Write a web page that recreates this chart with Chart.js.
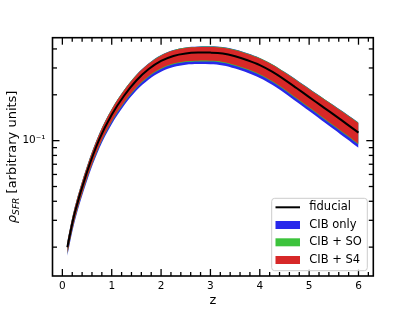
<!DOCTYPE html>
<html><head><meta charset="utf-8">
<script src="https://cdn.jsdelivr.net/npm/chart.js@4.4.0/dist/chart.umd.min.js"></script>
<style>html,body{margin:0;padding:0;background:#fff;}canvas{display:block;}</style>
</head><body>
<canvas id="c" width="415" height="311"></canvas>
<script>
// ---- data ----
const zValues = [0.1,0.25,0.5,0.75,1.0,1.25,1.5,1.75,2.0,2.25,2.5,2.75,3.0,3.25,3.5,3.75,4.0,4.25,4.5,4.75,5.0,5.25,5.5,5.75,6.0];
const fiducial = [0.01995,0.03350,0.06237,0.1023,0.1479,0.1972,0.2483,0.2951,0.3334,0.3598,0.3733,0.3784,0.3784,0.3733,0.3581,0.3373,0.3133,0.2838,0.2518,0.2208,0.1932,0.1690,0.1483,0.1294,0.1130];
const cibS4Upper = [0.02163,0.03631,0.06745,0.1107,0.1600,0.2133,0.2685,0.3192,0.3614,0.3899,0.4055,0.4112,0.4121,0.4074,0.3926,0.3707,0.3459,0.3148,0.2805,0.2477,0.2178,0.1919,0.1690,0.1486,0.1303];
const cibS4Lower = [0.01820,0.03055,0.05689,0.09311,0.1343,0.1786,0.2244,0.2655,0.2985,0.3206,0.3319,0.3350,0.3342,0.3289,0.3141,0.2951,0.2729,0.2460,0.2173,0.1897,0.1656,0.1442,0.1259,0.1096,0.09528];
const cibSOUpper = [0.02178,0.03656,0.06792,0.1114,0.1611,0.2148,0.2704,0.3214,0.3639,0.3926,0.4083,0.4140,0.4150,0.4102,0.3954,0.3733,0.3483,0.3170,0.2825,0.2495,0.2193,0.1932,0.1702,0.1496,0.1312];
const cibSOLower = [0.01799,0.03020,0.05623,0.09204,0.1327,0.1766,0.2218,0.2624,0.2951,0.3170,0.3281,0.3311,0.3304,0.3251,0.3105,0.2917,0.2698,0.2432,0.2148,0.1875,0.1637,0.1426,0.1245,0.1084,0.09419];
const cibOnlyUpper = [0.02183,0.03665,0.06807,0.1117,0.1615,0.2153,0.2710,0.3222,0.3647,0.3936,0.4093,0.4150,0.4159,0.4112,0.3962,0.3741,0.3491,0.3177,0.2831,0.2500,0.2198,0.1936,0.1706,0.1500,0.1315];
const cibOnlyLower = [0.01758,0.02944,0.05458,0.08913,0.1282,0.1702,0.2133,0.2524,0.2838,0.3048,0.3155,0.3184,0.3170,0.3119,0.2979,0.2793,0.2582,0.2328,0.2056,0.1795,0.1563,0.1361,0.1189,0.1033,0.08974];

const xMajorTicks = [0,1,2,3,4,5,6];
const xMinorTicks = [0.2,0.4,0.6,0.8,1.2,1.4,1.6,1.8,2.2,2.4,2.6,2.8,3.2,3.4,3.6,3.8,4.2,4.4,4.6,4.8,5.2,5.4,5.6,5.8,6.2];
const yMajorTicks = [0.1];
const yMinorTicks = [0.02,0.03,0.04,0.05,0.06,0.07,0.08,0.09,0.2,0.3,0.4];
const yTickLabel = '10\u207B\u00B9';
const legendLabels = ['fiducial','CIB only','CIB + SO','CIB + S4'];
const xTitle = 'z';
const yTitleSymbol = '\u03C1';
const yTitleSub = 'SFR';
const yTitleRest = ' [arbitrary units]';

// ---- styles ----
const BLUE = 'rgb(40,40,235)', GREEN = 'rgb(60,195,60)', RED = 'rgb(215,40,40)';
const FONT = "'DejaVu Sans', sans-serif";
const TENSION = 0.35;

const pts = arr => arr.map((v,i)=>({x:zValues[i], y:v}));
const band = (data, color, fill) => ({data: pts(data), borderWidth:0, borderColor:'rgba(0,0,0,0)', backgroundColor: color,
  pointRadius:0, fill: fill, tension:TENSION});

const frame = {
  id:'frame',
  afterDraw(chart){
    const {ctx, chartArea:a, scales:{x,y}} = chart;
    ctx.save();
    ctx.strokeStyle = '#000';
    const seg = (x1,y1,x2,y2)=>{ctx.beginPath();ctx.moveTo(x1,y1);ctx.lineTo(x2,y2);ctx.stroke();};
    ctx.lineWidth = 1.3;
    xMajorTicks.forEach(v=>{const p=x.getPixelForValue(v); seg(p,a.bottom,p,a.bottom-7); seg(p,a.top,p,a.top+7);});
    xMinorTicks.forEach(v=>{const p=x.getPixelForValue(v); seg(p,a.bottom,p,a.bottom-4); seg(p,a.top,p,a.top+4);});
    yMajorTicks.forEach(v=>{const p=y.getPixelForValue(v); seg(a.left,p,a.left+7,p); seg(a.right,p,a.right-7,p);});
    yMinorTicks.forEach(v=>{const p=y.getPixelForValue(v); seg(a.left,p,a.left+4.5,p); seg(a.right,p,a.right-4.5,p);});
    ctx.lineWidth = 1.6;
    ctx.strokeRect(a.left, a.top, a.right-a.left, a.bottom-a.top);

    // legend
    const lw = 95.6, lh = 72.4;
    const lx = a.right - 6 - lw, ly = a.bottom - 5.3 - lh;
    ctx.beginPath();
    ctx.roundRect(lx, ly, lw, lh, 3);
    ctx.fillStyle = 'rgba(255,255,255,0.85)'; ctx.fill();
    ctx.lineWidth = 1; ctx.strokeStyle = '#cccccc'; ctx.stroke();
    const rows = [ly+9, ly+26.7, ly+44, ly+61.7];
    const hx = lx + 3.8, hw = 24.5, tx = lx + 37.6;
    ctx.strokeStyle = '#000'; ctx.lineWidth = 2;
    seg(hx, rows[0], hx+hw, rows[0]);
    [BLUE, GREEN, RED].forEach((c,i)=>{ctx.fillStyle=c; ctx.fillRect(hx, rows[i+1]-4, hw, 8);});
    ctx.fillStyle = '#000'; ctx.font = '11.5px ' + FONT; ctx.textBaseline = 'middle'; ctx.textAlign = 'left';
    legendLabels.forEach((t,i)=>ctx.fillText(t, tx, rows[i]));

    // y title
    ctx.save();
    const big = '13px ' + FONT, bigI = 'italic 13px ' + FONT, small = 'italic 9.1px ' + FONT;
    ctx.font = bigI; const w1 = ctx.measureText(yTitleSymbol).width;
    ctx.font = small; const w2 = ctx.measureText(yTitleSub).width;
    ctx.font = big; const w3 = ctx.measureText(yTitleRest).width;
    const total = w1 + w2 + w3;
    ctx.translate(16, (a.top + a.bottom)/2);
    ctx.rotate(-Math.PI/2);
    ctx.textBaseline = 'alphabetic';
    let cx = -total/2;
    ctx.font = bigI; ctx.fillText(yTitleSymbol, cx, 0); cx += w1;
    ctx.font = small; ctx.fillText(yTitleSub, cx, 2.6); cx += w2;
    ctx.font = big; ctx.fillText(yTitleRest, cx, 0);
    ctx.restore();
    ctx.restore();
  }
};

new Chart(document.getElementById('c'), {
  type:'line',
  data:{datasets:[
    {label:legendLabels[0], data:pts(fiducial), borderColor:'#000', borderWidth:2, pointRadius:0, fill:false, tension:TENSION},
    band(cibS4Upper, RED, false),
    band(cibS4Lower, RED, '-1'),
    band(cibSOUpper, GREEN, false),
    band(cibSOLower, GREEN, '-1'),
    band(cibOnlyUpper, BLUE, false),
    band(cibOnlyLower, BLUE, '-1')
  ]},
  options:{
    responsive:false, animation:false, devicePixelRatio:1,
    layout:{padding:{left:0, top:37.7, right:41.7, bottom:0}},
    plugins:{legend:{display:false}, tooltip:{enabled:false}},
    scales:{
      x:{type:'linear', min:-0.2, max:6.3,
        afterBuildTicks(s){ s.ticks = xMajorTicks.map(v=>({value:v})); },
        afterFit(s){ s.height = 35; },
        grid:{display:false, drawTicks:false}, border:{display:false},
        ticks:{autoSkip:false, maxRotation:0, padding:4, color:'#000', font:{family:FONT, size:10.5}, callback:v=>String(v)},
        title:{display:true, text:xTitle, color:'#000', font:{family:FONT, size:13}, padding:{top:0,bottom:3}}
      },
      y:{type:'logarithmic', min:0.01293, max:0.474,
        afterBuildTicks(s){ s.ticks = yMajorTicks.concat(yMinorTicks).map(v=>({value:v})); },
        afterFit(s){ s.width = 52.5; },
        grid:{display:false, drawTicks:false}, border:{display:false},
        ticks:{autoSkip:false, padding:7, color:'#000', font:{family:FONT, size:10.5},
          callback:v=> yMajorTicks.some(m=>Math.abs(m-v)<1e-9) ? yTickLabel : ''}
      }
    }
  },
  plugins:[frame]
});
</script>
</body></html>
